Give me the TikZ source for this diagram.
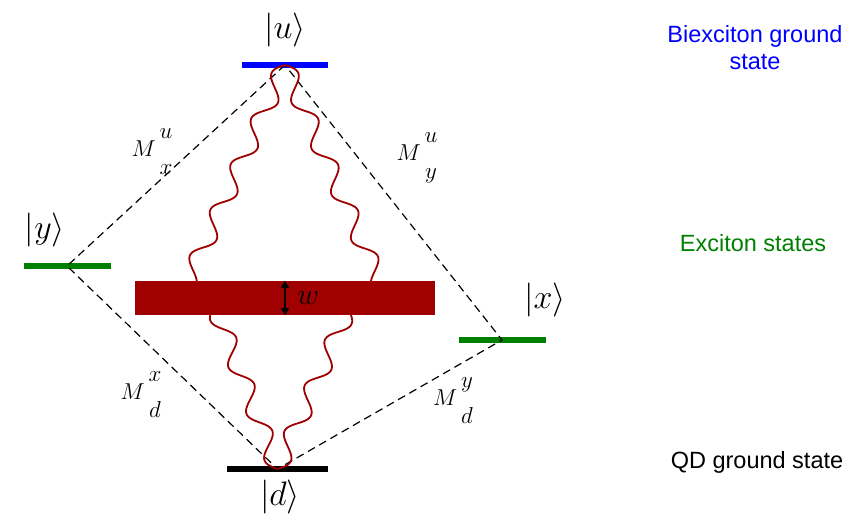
\documentclass[tikz,border=0pt]{standalone}
\usepackage{fix-cm}
\usepackage{fontspec}
\setsansfont{Liberation Sans}
\usetikzlibrary{positioning,arrows.meta,calc}
\definecolor{bxblue}{RGB}{0,0,255}
\definecolor{exgreen}{RGB}{0,128,0}
\definecolor{bandred}{RGB}{160,0,0}
\newcommand{\melem}[2]{$M\,\begin{array}{@{}c@{}}#1\\[9pt]#2\end{array}$}
% sine wave from #1 to #2, first bump to side #3
\newcommand{\wave}[3]{%
  \draw[wavy] let \p1=($(#2)-(#1)$), \n1={atan2(\y1,\x1)},
    \n2={veclen(\x1,\y1)} in [shift={(#1)}, rotate=\n1]
    plot[variable=\s, domain=0:\n2, samples=160, smooth]
    (\s, {#3*9*sin(\s*7.2)});}

\begin{document}
\begin{tikzpicture}[x=1pt, y=-1pt,
  level/.style={minimum width=#1, minimum height=6pt, inner sep=0pt},
  ket/.style={font=\fontsize{34}{38}\selectfont},
  mel/.style={font=\fontsize{23}{27}\selectfont},
  note/.style={font=\sffamily\fontsize{23.5}{27}\selectfont, align=center},
  trans/.style={dash pattern=on 8pt off 5pt, line width=1.2pt},
  wavy/.style={bandred, line width=1.8pt},
]
  \useasboundingbox (0,0) rectangle (851,523);
  % levels
  \node[level=86pt, fill=bxblue] (u) at (285,65) {};
  \node[level=101pt, fill=black] (d) at (277.5,469) {};
  \node[level=87pt, fill=exgreen] (y) at (67,266) {};
  \node[level=87pt, fill=exgreen] (x) at (502,340) {};
  \node[minimum width=300pt, minimum height=34pt,
    inner sep=0pt] (band) at (285,298) {};
  % kets
  \node[ket] (uket) at (285,30) {$|u\rangle$};
  \node[ket] (dket) at (280,497) {$|d\rangle$};
  \node[ket] (yket) at (45,230) {$|y\rangle$};
  \node[ket] (xket) at (545,300) {$|x\rangle$};
  % transitions
  \draw[trans] (u.center) -- (y.center) -- (d.center) -- (x.center) -- cycle;
  \node[mel] (mux) at (152,151) {\melem{u}{x}};
  \node[mel] (muy) at (417,155) {\melem{u}{y}};
  \node[mel] (mdx) at (141,394) {\melem{x}{d}};
  \node[mel] (mdy) at (453,400) {\melem{y}{d}};
  % coupling to the band (ends hidden under the band)
  \coordinate (bandtl) at ([xshift=50pt, yshift=-8pt]band.north west);
  \coordinate (bandtr) at ([xshift=-53pt, yshift=-8pt]band.north east);
  \coordinate (bandbl) at ([xshift=80pt, yshift=8pt]band.south west);
  \coordinate (bandbr) at ([xshift=-86pt, yshift=8pt]band.south east);
  \wave{u.center}{bandtl}{1}
  \wave{u.center}{bandtr}{-1}
  \wave{d.center}{bandbl}{-1}
  \wave{d.center}{bandbr}{1}
  \fill[bandred] (band.south west) rectangle (band.north east);
  \draw[{Triangle[length=7pt,width=8pt]}-{Triangle[length=7pt,width=8pt]},
    line width=1.5pt] (band.north) -- (band.south)
    node[midway, right=8pt, font=\fontsize{30}{34}\selectfont] (wlabel) {$w$};
  % captions
  \node[note, text=bxblue] (bxtext) at (755,48) {Biexciton ground\\state};
  \node[note, text=exgreen] (extext) at (753,243) {Exciton states};
  \node[note] (gstext) at (757,462) {QD ground state};
\end{tikzpicture}
\end{document}
